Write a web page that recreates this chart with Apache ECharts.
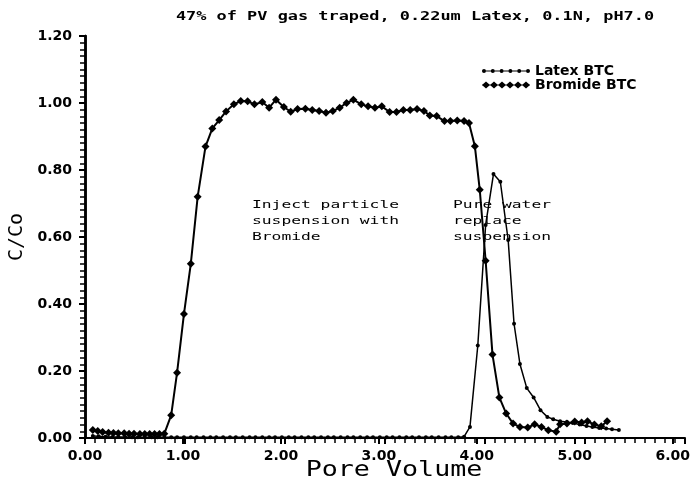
<!DOCTYPE html>
<html>
<head>
<meta charset="utf-8">
<script src="https://cdn.jsdelivr.net/npm/echarts@6/dist/echarts.min.js"></script>
<style>html,body{margin:0;padding:0;background:#fff;}
#wrap{position:relative;width:693px;height:484px;}
#c,#t{position:absolute;left:0;top:0;width:693px;height:484px;}
#t{pointer-events:none;}</style>
</head>
<body>
<div id="wrap"><div id="c"></div><div id="t"></div></div>
<script>
var titleText = '47% of PV gas traped, 0.22um Latex, 0.1N, pH7.0';
var xName = 'Pore Volume';
var yName = 'C/Co';
var seriesNames = ['Latex BTC', 'Bromide BTC'];
var note1 = 'Inject particle\nsuspension with\nBromide';
var note2 = 'Pure water\nreplace\nsuspension';

var latexX = [0.08,0.14,0.21,0.28,0.34,0.41,0.48,0.54,0.61,0.68,0.74,0.81,0.88,0.94,1.01,1.08,1.14,1.21,1.28,1.34,1.41,1.48,1.54,1.61,1.68,1.74,1.81,1.88,1.94,2.01,2.08,2.14,2.21,2.28,2.34,2.41,2.48,2.54,2.61,2.68,2.74,2.81,2.88,2.94,3.01,3.08,3.14,3.21,3.28,3.34,3.41,3.48,3.54,3.61,3.68,3.74,3.81,3.87,3.93,4.01,4.09,4.17,4.24,4.32,4.38,4.44,4.51,4.58,4.65,4.72,4.78,4.85,4.92,4.98,5.05,5.12,5.18,5.25,5.32,5.38,5.45];
var latexY = [0.006,0.005,0.004,0.003,0.003,0.003,0.002,0.002,0.002,0.002,0.002,0.002,0.002,0.002,0.002,0.002,0.002,0.002,0.002,0.002,0.002,0.002,0.002,0.002,0.002,0.002,0.002,0.002,0.002,0.002,0.002,0.002,0.002,0.002,0.002,0.002,0.002,0.002,0.002,0.002,0.002,0.002,0.002,0.002,0.002,0.002,0.002,0.002,0.002,0.002,0.002,0.002,0.002,0.002,0.002,0.002,0.002,0.004,0.033,0.276,0.636,0.788,0.765,0.591,0.341,0.221,0.149,0.121,0.083,0.063,0.056,0.05,0.048,0.045,0.04,0.036,0.033,0.03,0.028,0.026,0.024];

var bromideX = [0.08,0.13,0.18,0.24,0.29,0.34,0.40,0.45,0.50,0.56,0.61,0.66,0.71,0.76,0.81,0.88,0.94,1.01,1.08,1.15,1.23,1.30,1.37,1.44,1.52,1.59,1.66,1.73,1.81,1.88,1.95,2.03,2.10,2.17,2.25,2.32,2.39,2.46,2.53,2.60,2.67,2.74,2.82,2.89,2.96,3.03,3.11,3.18,3.25,3.32,3.39,3.46,3.52,3.59,3.67,3.73,3.80,3.87,3.92,3.98,4.03,4.09,4.16,4.23,4.30,4.37,4.44,4.52,4.59,4.66,4.73,4.81,4.85,4.92,5.00,5.07,5.13,5.20,5.27,5.33];
var bromideY = [0.024,0.021,0.018,0.016,0.015,0.014,0.014,0.013,0.013,0.012,0.012,0.012,0.012,0.012,0.013,0.068,0.195,0.37,0.52,0.72,0.87,0.924,0.949,0.975,0.996,1.006,1.005,0.996,1.003,0.986,1.01,0.988,0.974,0.982,0.983,0.979,0.976,0.971,0.976,0.986,1.0,1.01,0.996,0.99,0.986,0.99,0.973,0.973,0.979,0.979,0.982,0.976,0.963,0.961,0.946,0.946,0.948,0.946,0.94,0.871,0.741,0.529,0.249,0.121,0.073,0.043,0.033,0.031,0.041,0.033,0.023,0.019,0.041,0.043,0.049,0.046,0.05,0.04,0.035,0.05];

function pairs(xs, ys) { return xs.map(function (x, i) { return [x, ys[i]]; }); }

var latexIcon = 'path://M0,2.4H48V3.6H0Z' +
  ' M0,3a2,2 0 1,1 4,0a2,2 0 1,1 -4,0Z M8.8,3a2,2 0 1,1 4,0a2,2 0 1,1 -4,0Z M17.6,3a2,2 0 1,1 4,0a2,2 0 1,1 -4,0Z' +
  ' M26.4,3a2,2 0 1,1 4,0a2,2 0 1,1 -4,0Z M35.2,3a2,2 0 1,1 4,0a2,2 0 1,1 -4,0Z M44,3a2,2 0 1,1 4,0a2,2 0 1,1 -4,0Z';
var bromIcon = 'path://M0,3H48V4H0Z' +
  ' M4,0L8,3.5L4,7L0,3.5Z M12,0L16,3.5L12,7L8,3.5Z M20,0L24,3.5L20,7L16,3.5Z' +
  ' M28,0L32,3.5L28,7L24,3.5Z M36,0L40,3.5L36,7L32,3.5Z M44,0L48,3.5L44,7L40,3.5Z';

var gridBox = { left: 85, right: 8, top: 36, bottom: 46 };
var tickFont = { color: '#000', fontFamily: 'DejaVu Sans', fontWeight: 'bold', fontSize: 14 };

var chart = echarts.init(document.getElementById('c'));
chart.setOption({
  animation: false,
  backgroundColor: '#fff',
  grid: gridBox,
  legend: {
    orient: 'vertical', left: 482, top: 64, padding: 0, itemGap: 0,
    itemWidth: 48, itemHeight: 7, selectedMode: false,
    textStyle: { color: '#000', fontFamily: 'DejaVu Sans', fontWeight: 'bold', fontSize: 14, lineHeight: 12 },
    data: [{ name: seriesNames[0], icon: latexIcon }, { name: seriesNames[1], icon: bromIcon }]
  },
  xAxis: {
    type: 'value', min: 0, max: 6, interval: 1,
    axisLine: { show: true, onZero: false, lineStyle: { color: '#000', width: 2 } },
    axisTick: { show: true, length: 6, lineStyle: { color: '#000', width: 2 } },
    axisLabel: Object.assign({ margin: 11, formatter: function (v) { return v.toFixed(2); } }, tickFont),
    splitLine: { show: false }
  },
  yAxis: {
    type: 'value', min: 0, max: 1.2, interval: 0.2,
    axisLine: { show: true, onZero: false, lineStyle: { color: '#000', width: 2.5 } },
    axisTick: { show: true, length: 6, lineStyle: { color: '#000', width: 2 } },
    axisLabel: Object.assign({ margin: 13, formatter: function (v) { return v.toFixed(2); } }, tickFont),
    splitLine: { show: false }
  },
  series: [
    {
      name: seriesNames[0], type: 'line', data: pairs(latexX, latexY),
      symbol: 'circle', symbolSize: 4, showSymbol: true,
      lineStyle: { color: '#000', width: 1.5 }, itemStyle: { color: '#000' }, z: 3
    },
    {
      name: seriesNames[1], type: 'line', data: pairs(bromideX, bromideY),
      symbol: 'diamond', symbolSize: 8, showSymbol: true,
      lineStyle: { color: '#000', width: 2 }, itemStyle: { color: '#000' }, z: 4
    }
  ],
  graphic: [
    { type: 'text', x: 415, y: 17, scaleX: 1.30,
      style: { text: titleText, fontFamily: 'DejaVu Sans Mono', fontWeight: 'bold', fontSize: 13, fill: '#000', textAlign: 'center', textVerticalAlign: 'middle' } },
    { type: 'text', x: 252, y: 197, scaleX: 1.48,
      style: { text: note1, fontFamily: 'DejaVu Sans Mono', fontSize: 11, lineHeight: 16, fill: '#000', textAlign: 'left', textVerticalAlign: 'top' } },
    { type: 'text', x: 453, y: 197, scaleX: 1.48,
      style: { text: note2, fontFamily: 'DejaVu Sans Mono', fontSize: 11, lineHeight: 16, fill: '#000', textAlign: 'left', textVerticalAlign: 'top' } },
    { type: 'text', x: 394, y: 471, scaleX: 1.27,
      style: { text: xName, fontFamily: 'DejaVu Sans Mono', fontSize: 21, fill: '#000', textAlign: 'center', textVerticalAlign: 'middle' } },
    { type: 'text', x: 17, y: 237, rotation: Math.PI / 2,
      style: { text: yName, fontFamily: 'DejaVu Sans Mono', fontSize: 20, fill: '#000', textAlign: 'center', textVerticalAlign: 'middle' } }
  ]
});

// Overlay instance carrying the minor tick marks of the same axes.
var tickChart = echarts.init(document.getElementById('t'));
tickChart.setOption({
  animation: false,
  grid: gridBox,
  xAxis: {
    type: 'value', min: 0, max: 6, interval: 1,
    axisLine: { show: true, lineStyle: { color: '#000', width: 2 } },
    axisTick: { show: true, length: 6, lineStyle: { color: '#000', width: 2 } },
    minorTick: { show: true, splitNumber: 10, length: 5, lineStyle: { color: '#000', width: 1.5 } },
    axisLabel: { show: false }, splitLine: { show: false }
  },
  yAxis: {
    type: 'value', min: 0, max: 1.2, interval: 0.2,
    axisLine: { show: true, lineStyle: { color: '#000', width: 2.5 } },
    axisTick: { show: true, length: 6, lineStyle: { color: '#000', width: 2 } },
    minorTick: { show: true, splitNumber: 10, length: 5, lineStyle: { color: '#000', width: 1.5 } },
    axisLabel: { show: false }, splitLine: { show: false }
  },
  series: []
});
</script>
</body>
</html>
